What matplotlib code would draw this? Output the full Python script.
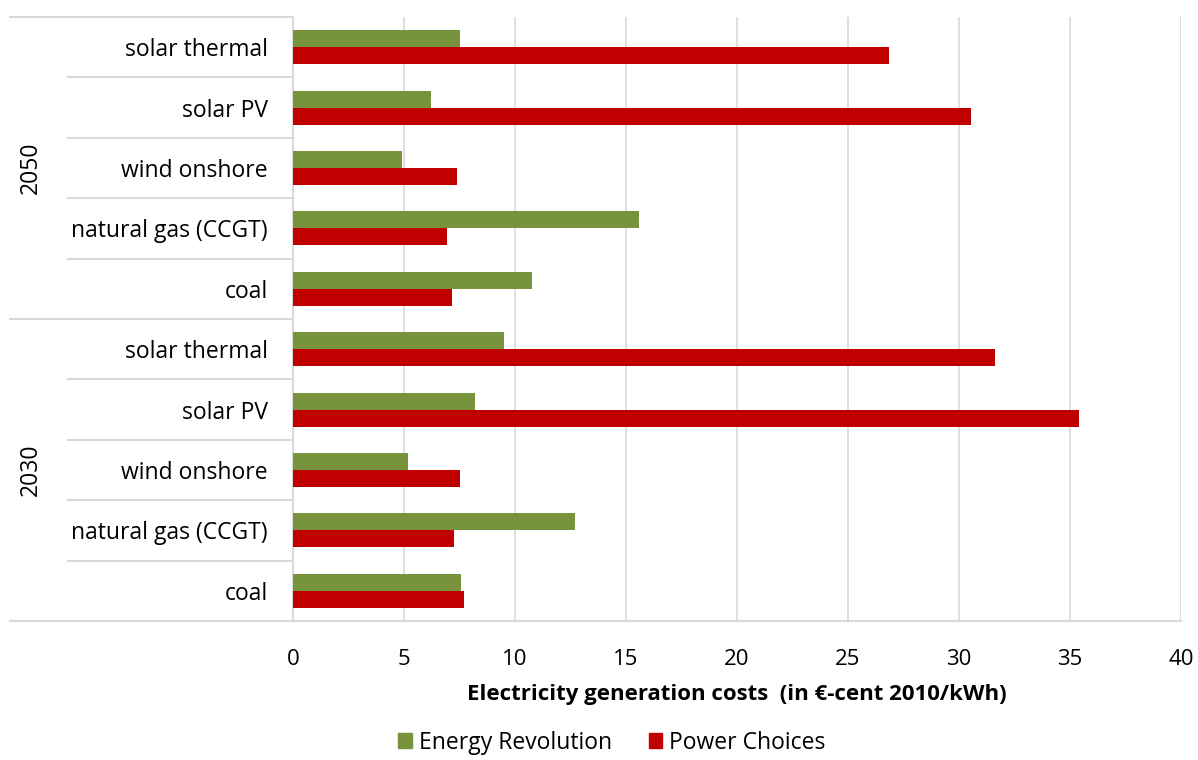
import matplotlib
matplotlib.use('Agg')
import matplotlib.pyplot as plt
from matplotlib.patches import Patch
import numpy as np

plt.rcParams['font.family'] = ['Open Sans', 'DejaVu Sans']

technologies = ['coal', 'natural gas (CCGT)', 'wind onshore', 'solar PV', 'solar thermal']
years = ['2030', '2050']

# values per year, ordered like technologies (bottom to top)
energy_revolution = {
    '2030': [7.55, 12.7, 5.2, 8.2, 9.5],
    '2050': [10.75, 15.6, 4.9, 6.2, 7.5],
}
power_choices = {
    '2030': [7.7, 7.25, 7.5, 35.4, 31.6],
    '2050': [7.15, 6.95, 7.4, 30.55, 26.85],
}

green = '#77933C'
red = '#C00000'
grey = '#d9d9d9'

labels = []
er = []
pc = []
for yr in years:
    labels += technologies
    er += energy_revolution[yr]
    pc += power_choices[yr]
ypos = np.arange(len(labels))

fig = plt.figure(figsize=(11.98, 7.6), dpi=100)
ax = fig.add_axes([293/1198, (760-621)/760, (1181-293)/1198, (621-17)/760])

h = 0.28
ax.barh(ypos + h/2, er, height=h, color=green, zorder=3)
ax.barh(ypos - h/2, pc, height=h, color=red, zorder=3)

ax.set_xlim(0, 40)
ax.set_ylim(-0.5, len(labels) - 0.5)
ax.set_xticks(range(0, 41, 5))
ax.xaxis.grid(True, color=grey, linewidth=1.2, zorder=0)
ax.tick_params(axis='x', length=0, labelsize=16, pad=20)
ax.set_yticks(ypos)
ax.set_yticklabels(labels, fontsize=16.5)
ax.tick_params(axis='y', length=0, pad=18)

for s in ['top', 'right']:
    ax.spines[s].set_visible(False)
for s in ['left', 'bottom']:
    ax.spines[s].set_color(grey)
    ax.spines[s].set_linewidth(1.5)

# multi-level category separators
trans = ax.get_yaxis_transform()
inner = (68 - 293) / 888
outer = (10 - 293) / 888
for b in np.arange(-0.5, len(labels), 1.0):
    x0 = outer if b in (-0.5, 4.5, 9.5) else inner
    ax.plot([x0, 0], [b, b], color=grey, linewidth=1.5, transform=trans, clip_on=False)

for i, yr in enumerate(years):
    ax.text((31 - 293) / 888, i * 5 + 2, yr, transform=trans, rotation=90,
            ha='center', va='center', fontsize=16.5)

ax.set_xlabel('Electricity generation costs  (in €-cent 2010/kWh)', fontsize=16,
              fontweight='bold', labelpad=10)

handles = [Patch(color=green, label='Energy Revolution'), Patch(color=red, label='Power Choices')]
fig.legend(handles=handles, loc='lower center', bbox_to_anchor=(612/1198, -0.02), ncol=2,
           frameon=False, fontsize=16.5, handlelength=0.6, handleheight=0.6,
           handletextpad=0.3, columnspacing=1.6)

fig.savefig('out.png', dpi=100)
